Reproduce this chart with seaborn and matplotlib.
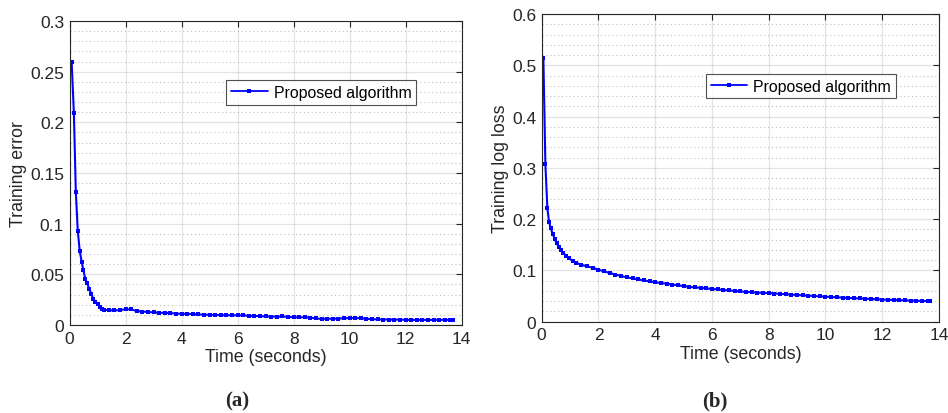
import matplotlib
matplotlib.use("Agg")
import matplotlib.pyplot as plt
import seaborn as sns
from matplotlib.ticker import MultipleLocator, FuncFormatter

# panel (a): training error
time_a = [0.07, 0.15, 0.22, 0.29, 0.36, 0.43, 0.49, 0.56, 0.63, 0.70, 0.77, 0.84,
          0.92, 1.00, 1.08, 1.16, 1.24,
          1.4, 1.6, 1.8, 2.0, 2.2, 2.4, 2.6, 2.8, 3.0, 3.2, 3.4, 3.6, 3.8, 4.0,
          4.2, 4.4, 4.6, 4.8, 5.0, 5.2, 5.4, 5.6, 5.8, 6.0, 6.2, 6.4, 6.6, 6.8,
          7.0, 7.2, 7.4, 7.6, 7.8, 8.0, 8.2, 8.4, 8.6, 8.8, 9.0, 9.2, 9.4, 9.6,
          9.8, 10.0, 10.2, 10.4, 10.6, 10.8, 11.0, 11.2, 11.4, 11.6, 11.8, 12.0,
          12.2, 12.4, 12.6, 12.8, 13.0, 13.2, 13.4, 13.6, 13.7]
error_a = [0.260, 0.209, 0.131, 0.0925, 0.073, 0.062, 0.054, 0.045, 0.041, 0.0355,
           0.031, 0.026, 0.023, 0.0207, 0.018, 0.0158, 0.0150,
           0.0145, 0.0144, 0.0146, 0.0155, 0.0153, 0.0137, 0.0133, 0.0128, 0.0124,
           0.0121, 0.0119, 0.0117, 0.0113, 0.0110, 0.0110, 0.0107, 0.0104, 0.0102,
           0.0100, 0.0099, 0.0097, 0.0096, 0.0096, 0.0095, 0.0094, 0.0092, 0.0089,
           0.0087, 0.0085, 0.0083, 0.0082, 0.0084, 0.0080, 0.0076, 0.0075, 0.0077,
           0.0072, 0.0064, 0.0060, 0.0061, 0.0062, 0.0063, 0.0066, 0.0068, 0.0069,
           0.0066, 0.0062, 0.0057, 0.0055, 0.0054, 0.0054, 0.0053, 0.0052, 0.0051,
           0.0050, 0.0050, 0.0050, 0.0050, 0.0050, 0.0050, 0.0051, 0.0051, 0.0051]

# panel (b): training log loss
time_b = [0.06, 0.13, 0.20, 0.26, 0.32, 0.39, 0.46, 0.53, 0.60, 0.68, 0.76, 0.86,
          0.97, 1.1,
          1.2, 1.4, 1.6, 1.8, 2.0, 2.2, 2.4, 2.6, 2.8, 3.0, 3.2, 3.4, 3.6, 3.8,
          4.0, 4.2, 4.4, 4.6, 4.8, 5.0, 5.2, 5.4, 5.6, 5.8, 6.0, 6.2, 6.4, 6.6,
          6.8, 7.0, 7.2, 7.4, 7.6, 7.8, 8.0, 8.2, 8.4, 8.6, 8.8, 9.0, 9.2, 9.4,
          9.6, 9.8, 10.0, 10.2, 10.4, 10.6, 10.8, 11.0, 11.2, 11.4, 11.6, 11.8,
          12.0, 12.2, 12.4, 12.6, 12.8, 13.0, 13.2, 13.4, 13.6, 13.7]
loss_b = [0.514, 0.3075, 0.221, 0.195, 0.182, 0.171, 0.161, 0.153, 0.146, 0.140,
          0.134, 0.129, 0.124, 0.118,
          0.115, 0.111, 0.108, 0.105, 0.1015, 0.098, 0.095, 0.092, 0.089, 0.0865,
          0.0845, 0.0825, 0.0805, 0.0785, 0.077, 0.0755, 0.074, 0.0725, 0.071,
          0.0695, 0.068, 0.067, 0.066, 0.065, 0.064, 0.063, 0.062, 0.061, 0.060,
          0.059, 0.0582, 0.0575, 0.0568, 0.0562, 0.0558, 0.055, 0.0543, 0.0536,
          0.0529, 0.0522, 0.0515, 0.0508, 0.0501, 0.0494, 0.0488, 0.0482, 0.0476,
          0.047, 0.0464, 0.0458, 0.0453, 0.0448, 0.0443, 0.0438, 0.0432, 0.0428,
          0.0424, 0.042, 0.0416, 0.0412, 0.0408, 0.0404, 0.0401, 0.0399]

sns.set_theme(style="white")
plt.rcParams['font.family'] = ['Liberation Sans', 'DejaVu Sans']

INK = "#262626"
fig = plt.figure(figsize=(9.48, 4.14), dpi=100)
ax_a = fig.add_axes([0.0735, 0.2126, 0.4135, 0.7343])
ax_b = fig.add_axes([0.5714, 0.2205, 0.4191, 0.7433])


def style_axes(ax, ymax, ystep, yminor, ylabel):
    ax.set_xlim(0, 14)
    ax.set_ylim(0, ymax)
    ax.xaxis.set_major_locator(MultipleLocator(2))
    ax.yaxis.set_major_locator(MultipleLocator(ystep))
    ax.yaxis.set_minor_locator(MultipleLocator(yminor))
    ax.yaxis.set_major_formatter(FuncFormatter(lambda v, p: f"{v:g}"))
    ax.grid(which='major', color=INK, alpha=0.12, linewidth=0.9)
    ax.grid(which='minor', axis='y', color=INK, alpha=0.3,
            linestyle=(0, (1, 2.5)), linewidth=0.8)
    ax.set_axisbelow(True)
    ax.tick_params(which='major', direction='in', top=True, right=True, length=4,
                   width=0.8, color=INK, labelsize=12.5, labelcolor=INK, pad=4)
    ax.tick_params(which='minor', length=0)
    for s in ax.spines.values():
        s.set_color(INK)
        s.set_linewidth(0.8)
    ax.set_xlabel("Time (seconds)", fontsize=12.8, color=INK, labelpad=2)
    ax.set_ylabel(ylabel, fontsize=12.8, color=INK, labelpad=2)


sns.lineplot(x=time_a, y=error_a, ax=ax_a, color='blue', marker='s', markersize=3.4,
             markeredgewidth=0, linewidth=1.5, label="Proposed algorithm")
sns.lineplot(x=time_b, y=loss_b, ax=ax_b, color='blue', marker='s', markersize=3.4,
             markeredgewidth=0, linewidth=1.5, label="Proposed algorithm")

style_axes(ax_a, 0.3, 0.05, 0.01, "Training error")
style_axes(ax_b, 0.6, 0.1, 0.02, "Training log loss")

for ax, anchor in ((ax_a, (0.40, 0.805)), (ax_b, (0.413, 0.805))):
    leg = ax.legend(loc='upper left', bbox_to_anchor=anchor, fontsize=11.4,
                    frameon=True, fancybox=False, numpoints=1, handlelength=2.3,
                    borderpad=0.3, handletextpad=0.4, borderaxespad=0)
    leg.get_frame().set_edgecolor(INK)
    leg.get_frame().set_linewidth(0.8)
    for line in leg.get_lines():
        line.set_linewidth(1.3)
        line.set_markersize(3.0)
    for t in leg.get_texts():
        t.set_color("black")

fig.text(0.25, 0.03, "(a)", ha='center', va='center', fontsize=15,
         fontweight='bold', family='Liberation Serif')
fig.text(0.754, 0.03, "(b)", ha='center', va='center', fontsize=15,
         fontweight='bold', family='Liberation Serif')

fig.savefig("out.png", dpi=100)
